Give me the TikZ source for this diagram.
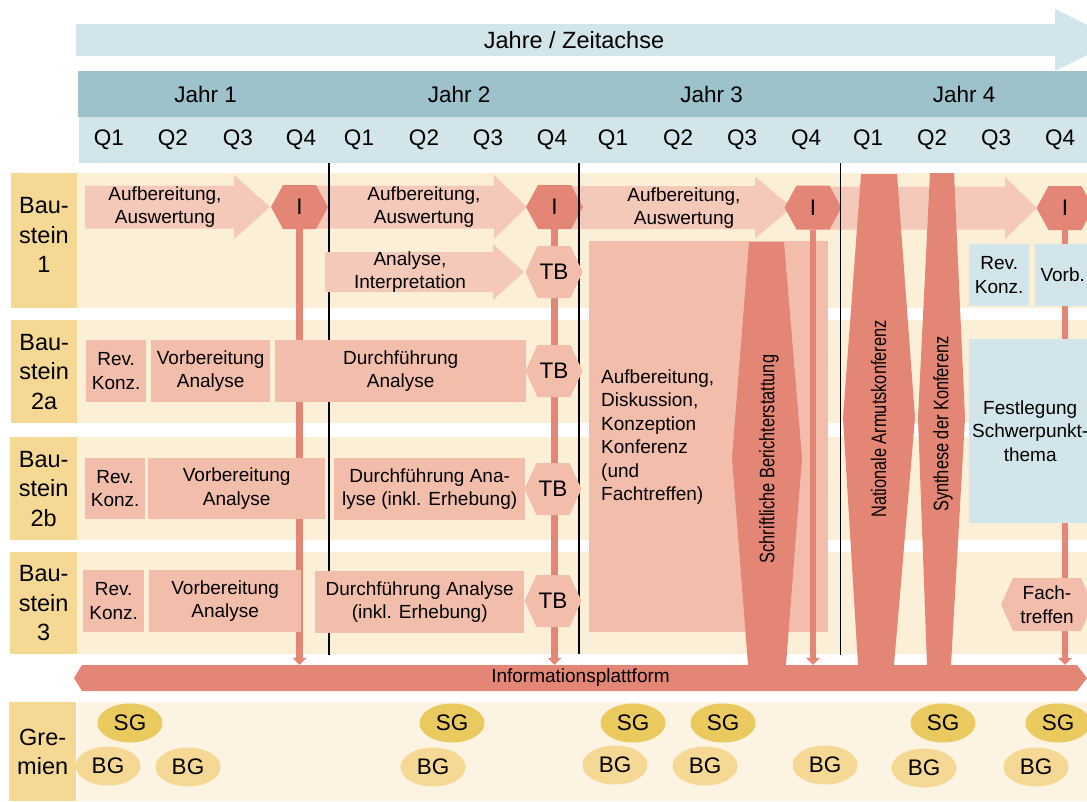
\documentclass[tikz,border=0pt]{standalone}
\usepackage{fontspec}
\setmainfont{Liberation Sans}
\usepackage{graphicx}
\usetikzlibrary{arrows.meta,shapes.geometric}

\definecolor{axisblue}{HTML}{D2E5EA}
\definecolor{yearteal}{HTML}{9DC2CB}
\definecolor{labelyellow}{HTML}{F5D894}
\definecolor{bandcream}{HTML}{FCEFD8}
\definecolor{gremcream}{HTML}{FCF3E2}
\definecolor{aufpink}{HTML}{F5C9B9}
\definecolor{boxpink}{HTML}{F2BEAB}
\definecolor{darksalmon}{HTML}{E48676}
\definecolor{sgyellow}{HTML}{EAC95F}
\definecolor{bgyellow}{HTML}{F5D894}

% block arrow: x start, x head, x tip, y middle, body half height, head half height, colour
\newcommand{\flowarrow}[7]{%
  \fill[#7] (#1,#4-#5) -- (#2,#4-#5) -- (#2,#4-#6) -- (#3,#4) -- (#2,#4+#6)
    -- (#2,#4+#5) -- (#1,#4+#5) -- cycle;}

% hexagon with a named text node: name, x, y, half width, half height, colour, text, node style
\newcommand{\hexshape}[8]{%
  \fill[#6] (#2-#4,#3) -- (#2-#4+12,#3-#5) -- (#2+#4-12,#3-#5) -- (#2+#4,#3)
    -- (#2+#4-12,#3+#5) -- (#2-#4+12,#3+#5) -- cycle;
  \node[#8, minimum width=2*#4, minimum height=2*#5] (#1) at (#2,#3) {#7};}

\tikzset{
  base/.style={inner sep=0pt, align=center, text=black},
  f19/.style={base, font=\fontsize{19}{23.5}\selectfont},
  f22/.style={base, font=\fontsize{22.5}{27}\selectfont},
  labelbox/.style={base, fill=labelyellow, anchor=north west, font=\fontsize{23.5}{29.5}\selectfont},
  labeltext/.style={base, font=\fontsize{23.5}{29.5}\selectfont},
  yearbox/.style={f22, fill=yearteal, anchor=north west, minimum height=46},
  pbox/.style={f19, fill=boxpink, anchor=north west},
  bbox/.style={f19, fill=axisblue, anchor=north west},
  conn/.style={draw=darksalmon, line width=6.5pt, -{Triangle[width=14pt,length=7pt]}},
  yearline/.style={draw=black, line width=1.3pt},
  vlabel/.style={base, rotate=90, font=\fontsize{21}{25}\selectfont},
  sg/.style={f22, ellipse, fill=sgyellow, minimum width=65, minimum height=39},
  bg/.style={f22, ellipse, fill=bgyellow, minimum width=65, minimum height=39},
}

\begin{document}
\begin{tikzpicture}[x=1pt,y=-1pt]
\useasboundingbox (0,0) rectangle (1087,801);
\clip (0,0) rectangle (1087,801);

% time axis
\fill[axisblue] (76,24) -- (1055,24) -- (1055,9) -- (1117,40) -- (1055,71) -- (1055,56) -- (76,56) -- cycle;
\node[base, font=\fontsize{23.5}{28}\selectfont] (axis) at (574,40) {Jahre / Zeitachse};

% years and quarters
\foreach \n/\a/\b in {1/78/333, 2/333/585, 3/585/838, 4/838/1090}
  \node[yearbox, minimum width=\b-\a] (jahr\n) at (\a,71) {Jahr \n};
\node[base, fill=axisblue, anchor=north west, minimum width=1010, minimum height=46] (quarters) at (79,117) {};
\foreach \x [count=\i from 0] in {109,173,238,301,359,424,488,552,613,678,742,806,868,932,996,1060} {
  \pgfmathtruncatemacro{\q}{mod(\i,4)+1}
  \node[f22] (q\i) at (\x,140) {Q\q};
}

% module bands
\foreach \t/\b in {173/308, 320/423, 437/540, 552/654}
  \fill[bandcream] (77,\t) rectangle (1087,\b);
\fill[gremcream] (78,702) rectangle (1087,801);
\node[labelbox, minimum width=66, minimum height=135] (lab1) at (11,173) {};
\node[labeltext] (lab1text) at (44,235) {Bau-\\stein\\1};
\node[labelbox, minimum width=66, minimum height=103] (lab2a) at (11,320) {Bau-\\stein\\2a};
\node[labelbox, minimum width=67, minimum height=103] (lab2b) at (10,437) {Bau-\\stein\\2b};
\node[labelbox, minimum width=67, minimum height=102] (lab3) at (10,552) {Bau-\\stein\\3};
\node[labelbox, minimum width=67, minimum height=99] (grem) at (9,702) {Gre-\\mien};

% yearly processing arrows
\flowarrow{85}{234}{270}{207}{21.5}{32}{aufpink}
\flowarrow{316}{494}{527}{207}{21.5}{32}{aufpink}
\flowarrow{571}{755}{792}{207.5}{21.5}{31}{aufpink}
\flowarrow{828}{1005}{1037}{208}{21.5}{31}{aufpink}
\node[f19] (auf1) at (165,207) {Aufbereitung,\\Auswertung};
\node[f19] (auf2) at (424,207) {Aufbereitung,\\Auswertung};
\node[f19] (auf3) at (684,208) {Aufbereitung,\\Auswertung};

% I milestones
\hexshape{I1}{299.5}{207}{28.5}{22}{darksalmon}{I}{f22}
\hexshape{I2}{554.5}{207}{28.5}{22}{darksalmon}{I}{f22}
\hexshape{I3}{813}{207.5}{28.5}{22}{darksalmon}{I}{f22}
\hexshape{I4}{1065}{208}{28.5}{22}{darksalmon}{I}{f22}

% year separators
\draw[yearline] (329,163) -- (329,655);
\draw[yearline] (579,163) -- (579,654);
\draw[yearline] (840.5,163) -- (840.5,655);

% conference preparation block
\node[base, fill=boxpink, anchor=north west, minimum width=239, minimum height=391] (konz) at (589,241) {};
\node[f19, align=left, anchor=west] (konztext) at (601,437) {Aufbereitung,\\Diskussion,\\Konzeption\\Konferenz\\(und\\Fachtreffen)};

% information platform
\fill[darksalmon] (82,665) -- (1077,665) -- (1087,678) -- (1077,691) -- (82,691) -- (74,678) -- cycle;
\node[f19, minimum width=1013, minimum height=26] (plat) at (580.5,678) {Informationsplattform};

% links from the milestones to the platform
\foreach \h in {I1,I2,I3,I4}
  \draw[conn] (\h.south) -- (\h.south |- plat.north);

% Baustein 1
\flowarrow{325}{493}{524}{272}{20}{28}{aufpink}
\node[f19] (ana) at (410,272) {Analyse,\\Interpretation};

% Baustein 2a
\node[pbox, minimum width=60, minimum height=62] (rev2a) at (86,340) {Rev.\\Konz.};
\node[pbox, minimum width=119, minimum height=62] (vor2a) at (151,340) {Vorbereitung\\Analyse};
\node[pbox, minimum width=251, minimum height=62] (dur2a) at (275,340) {Durchführung\\Analyse};

% Baustein 2b
\node[pbox, minimum width=60, minimum height=61] (rev2b) at (85,458) {Rev.\\Konz.};
\node[pbox, minimum width=177, minimum height=61] (vor2b) at (148,458) {Vorbereitung\\Analyse};
\node[pbox, minimum width=191, minimum height=62] (dur2b) at (334,458) {Durchführung Ana-\\lyse (inkl. Erhebung)};

% Baustein 3
\node[pbox, minimum width=61, minimum height=62] (rev3) at (83,570) {Rev.\\Konz.};
\node[pbox, minimum width=152, minimum height=62] (vor3) at (149,570) {Vorbereitung\\Analyse};
\node[pbox, minimum width=209, minimum height=62] (dur3) at (315,571) {Durchführung Analyse\\(inkl. Erhebung)};

% interim reports
\hexshape{TB1}{554}{272}{28.5}{26}{boxpink}{TB}{f22}
\hexshape{TB2a}{554}{371}{28.5}{26}{boxpink}{TB}{f22}
\hexshape{TB2b}{553}{489}{28.5}{26}{boxpink}{TB}{f22}
\hexshape{TB3}{553}{601}{28.5}{26}{boxpink}{TB}{f22}

% year 4 planning
\node[bbox, minimum width=60, minimum height=62] (rev4) at (969,244) {Rev.\\Konz.};
\node[bbox, minimum width=55, minimum height=62] (vorb4) at (1035,244) {Vorb.};
\node[bbox, minimum width=122, minimum height=184] (fest) at (969,339) {Festlegung\\Schwerpunkt-\\thema};
\hexshape{fach}{1047}{604.5}{46}{26.5}{boxpink}{Fach-\\treffen}{f19}

% reporting and conference
\fill[darksalmon] (749,242) -- (784,242) -- (802,458) -- (786,665) -- (748,665) -- (732,458) -- cycle;
\node[vlabel] (bericht) at (769,459) {\scalebox{0.78}[1]{Schriftliche Berichterstattung}};
\fill[darksalmon] (861,174) -- (897,174) -- (915,418) -- (894,665) -- (858,665) -- (843,418) -- cycle;
\node[vlabel] (konferenz) at (878.5,419) {\scalebox{0.78}[1]{Nationale Armutskonferenz}};
\fill[darksalmon] (930,173) -- (954,173) -- (965,418) -- (951,665) -- (927,665) -- (918,418) -- cycle;
\node[vlabel] (synthese) at (943,424) {\scalebox{0.78}[1]{Synthese der Konferenz}};

% committees
\foreach \nm/\x in {sg1/130, sg2/452, sg3/633, sg4/723, sg5/943, sg6/1058}
  \node[sg] (\nm) at (\x,723) {SG};
\foreach \nm/\x/\y in {bg1/108/766, bg2/188/767, bg3/433/767, bg4/615/765, bg5/705/766, bg6/825/765, bg7/924/768, bg8/1036/767}
  \node[bg] (\nm) at (\x,\y) {BG};
\end{tikzpicture}
\end{document}
